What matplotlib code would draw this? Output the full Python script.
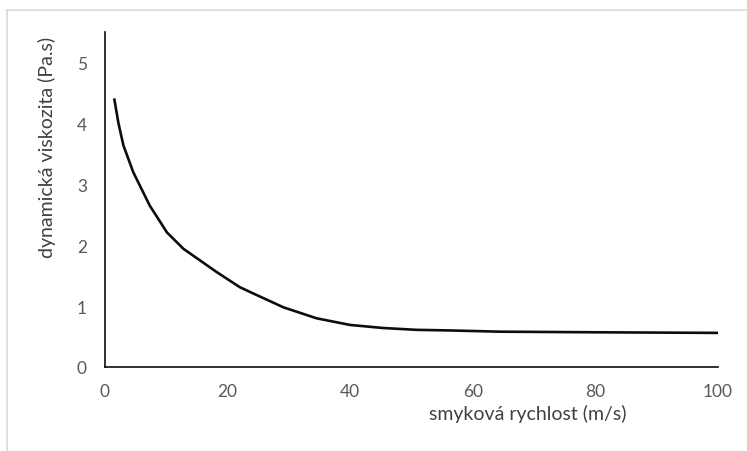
import matplotlib
matplotlib.use("Agg")
import matplotlib.pyplot as plt
from matplotlib.lines import Line2D

shear_rate = [1.5, 2.2, 3.0, 4.6, 7.3, 10.1, 12.8, 15.5, 18.2, 22.0, 23.7, 29.1,
              34.5, 40.0, 45.4, 50.8, 56.3, 64.4, 80.0, 100.0]
viscosity = [4.41, 4.0, 3.64, 3.2, 2.65, 2.21, 1.94, 1.75, 1.56, 1.31, 1.23, 0.98,
             0.80, 0.69, 0.64, 0.61, 0.60, 0.58, 0.57, 0.56]
x_ticks = [0, 20, 40, 60, 80, 100]
y_ticks = [0, 1, 2, 3, 4, 5]
x_title = "smyková rychlost (m/s)"
y_title = "dynamická viskozita (Pa.s)"

plt.rcParams['font.family'] = ['Lato', 'DejaVu Sans']

W, H = 747, 452
fig = plt.figure(figsize=(W / 100, H / 100), dpi=100)

# outer chart border (top and left visible)
fig.add_artist(Line2D([7 / W, 7 / W], [0, 1 - 11 / H], transform=fig.transFigure,
                      color='#d9d9d9', lw=1.2))
fig.add_artist(Line2D([7 / W, 1], [1 - 11 / H, 1 - 11 / H], transform=fig.transFigure,
                      color='#d9d9d9', lw=1.2))

ax = fig.add_axes([105 / W, (H - 368) / H, (718 - 105) / W, (368 - 33) / H])
ax.plot(shear_rate, viscosity, color='#0d0d0d', lw=1.9, solid_capstyle='butt')
ax.set_xlim(0, 100)
ax.set_ylim(0, 5.5)
ax.set_xticks(x_ticks)
ax.set_yticks(y_ticks)
ax.tick_params(length=0, labelsize=12.5, colors='#595959')
ax.tick_params(axis='x', pad=11.5)
ax.tick_params(axis='y', pad=13)
for s in ['top', 'right']:
    ax.spines[s].set_visible(False)
for s in ['left', 'bottom']:
    ax.spines[s].set_color('#0d0d0d')
    ax.spines[s].set_linewidth(1.2)

fig.text(528 / W, 1 - 414 / H, x_title, ha='center', va='center', fontsize=14,
         color='#404040')
fig.text(47 / W, 1 - 147 / H, y_title, ha='center', va='center', rotation=90,
         fontsize=14, color='#404040')

fig.savefig("out.png", dpi=100)
